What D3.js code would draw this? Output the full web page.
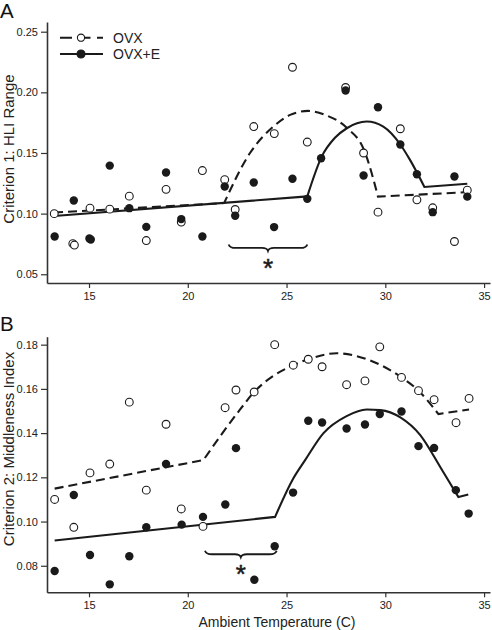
<!DOCTYPE html>
<html><head><meta charset="utf-8">
<script src="https://cdn.jsdelivr.net/npm/d3@7"></script>
<style>
html,body{margin:0;padding:0;background:#fff;}
svg{display:block;font-family:"Liberation Sans",Arial,Helvetica,sans-serif;}
</style></head>
<body>
<svg id="chart" width="492" height="630"></svg>
<script>
// ---------- data ----------
const xTicks = [15, 20, 25, 30, 35];
const yTicksA = [0.05, 0.10, 0.15, 0.20, 0.25];
const yTicksB = [0.08, 0.10, 0.12, 0.14, 0.16, 0.18];
const seriesNames = ["OVX", "OVX+E"];

// Panel A (Criterion 1: HLI Range)
const aOvxX = [13.24,14.18,14.26,15.05,16.05,17.04,17.90,18.90,19.67,20.74,21.87,22.40,23.34,24.38,25.30,26.05,27.99,28.90,29.63,30.76,31.60,32.40,33.50,34.15];
const aOvxY = [0.100,0.0752,0.0741,0.1045,0.1037,0.1144,0.0778,0.120,0.093,0.1355,0.128,0.1034,0.1718,0.166,0.2207,0.159,0.204,0.150,0.1012,0.170,0.1114,0.1048,0.0770,0.1193];
const aEX = [13.26,14.23,15.02,15.09,16.05,17.04,17.90,18.90,19.67,20.74,21.87,22.40,23.34,24.37,25.30,26.05,26.75,27.99,28.90,29.63,30.76,31.60,32.40,33.50,34.15];
const aEY = [0.0811,0.1108,0.0795,0.0786,0.1396,0.1045,0.0891,0.1339,0.0955,0.0811,0.1224,0.0982,0.1257,0.0889,0.1287,0.1122,0.1457,0.2015,0.1314,0.1877,0.157,0.1325,0.1012,0.1306,0.114];
const aOvxFitX = [13.23,21.84,23.15,24.32,25.18,26.09,26.95,28.06,28.92,29.63,34.14];
const aOvxFitY = [0.1009,0.1087,0.150,0.1716,0.1814,0.1847,0.1814,0.1707,0.1526,0.114,0.1177];
const aOvxKnots = [21.84, 29.63];
const aEFitX = [13.23,26.05,26.78,27.45,28.05,29.06,29.90,30.76,31.25,31.98,34.15];
const aEFitY = [0.0981,0.1142,0.147,0.1625,0.1704,0.1759,0.1717,0.157,0.1443,0.122,0.1246];
const aEKnots = [26.05, 31.98];
const aBrace = [22.07, 26.05, 0.0717];

// Panel B (Criterion 2: Middleness Index)
const bOvxX = [13.26,14.23,15.05,16.05,17.04,17.90,18.90,19.67,20.77,21.89,22.44,23.36,24.40,25.34,26.10,26.80,28.04,28.97,29.72,30.82,31.68,32.47,33.58,34.24];
const bOvxY = [0.110,0.0974,0.122,0.126,0.154,0.1142,0.144,0.1057,0.0978,0.1515,0.1595,0.1586,0.180,0.1707,0.1734,0.170,0.1619,0.1636,0.179,0.1652,0.1592,0.1551,0.1447,0.1557];
const bEX = [13.26,14.23,15.05,16.05,17.04,17.90,18.90,19.69,20.77,21.90,22.44,23.37,24.40,25.33,26.10,26.80,28.04,28.97,29.72,30.82,31.68,32.47,33.57,34.22];
const bEY = [0.0776,0.112,0.0849,0.0716,0.0843,0.0974,0.126,0.0986,0.1021,0.1077,0.1332,0.0737,0.0888,0.1131,0.1456,0.1448,0.1421,0.1439,0.1486,0.1498,0.1341,0.1333,0.1142,0.1036];
const bOvxFitX = [13.26,20.79,22.65,23.36,24.32,25.34,26.10,27.54,29.06,30.82,31.68,32.69,34.24];
const bOvxFitY = [0.1149,0.1278,0.1507,0.1586,0.1658,0.1707,0.1734,0.1761,0.1734,0.1652,0.1592,0.1486,0.1507];
const bOvxKnots = [20.79, 32.69];
const bEFitX = [13.26,24.42,25.34,25.94,26.86,28.04,29.06,29.75,30.76,31.77,32.78,33.70,34.20];
const bEFitY = [0.0914,0.1021,0.1195,0.1278,0.1399,0.1477,0.1507,0.1504,0.1471,0.1391,0.1247,0.1111,0.1122];
const bEKnots = [24.42, 33.70];
const bBrace = [20.87, 24.5, 0.0852];

// ---------- drawing ----------
const svg = d3.select("#chart");
const ink = "#1a1a1a";
const axisCol = "#333";
const zip = (xs, ys) => xs.map((x, i) => [x, ys[i]]);

const x = d3.scaleLinear().domain([12.873, 35.3]).range([47, 490]);

const panels = [
  { letter: "A", letterY: 18, ylab: "Criterion 1: HLI Range", ylabY: 149,
    y: d3.scaleLinear().domain([0.0428, 0.258]).range([283, 22]),
    yTicks: yTicksA, ovx: zip(aOvxX, aOvxY), e: zip(aEX, aEY),
    ovxFit: zip(aOvxFitX, aOvxFitY), ovxKnots: aOvxKnots,
    eFit: zip(aEFitX, aEFitY), eKnots: aEKnots, brace: aBrace, legend: true },
  { letter: "B", letterY: 330.5, ylab: "Criterion 2: Middleness Index", ylabY: 449,
    y: d3.scaleLinear().domain([0.068, 0.1836]).range([592.3, 336.7]),
    yTicks: yTicksB, ovx: zip(bOvxX, bOvxY), e: zip(bEX, bEY),
    ovxFit: zip(bOvxFitX, bOvxFitY), ovxKnots: bOvxKnots,
    eFit: zip(bEFitX, bEFitY), eKnots: bEKnots, brace: bBrace, legend: false }
];

// piecewise smooth path: split at knots (sharp corners), smooth within pieces
function piecewisePath(pts, knots, line) {
  const segs = [];
  let cur = [];
  pts.forEach(p => {
    cur.push(p);
    if (knots.some(k => Math.abs(k - p[0]) < 1e-9) && cur.length > 1) {
      segs.push(cur);
      cur = [p];
    }
  });
  if (cur.length > 1) segs.push(cur);
  return segs.map((s, i) => {
    const d = line(s);
    return i === 0 ? d : d.replace(/^M/, "L");
  }).join("");
}

panels.forEach(p => {
  const g = svg.append("g");
  const y = p.y;
  const y0 = y.range()[0];

  // axes
  const xa = g.append("g").attr("transform", `translate(0,${y0})`)
    .call(d3.axisBottom(x).tickValues(xTicks).tickSize(5).tickSizeOuter(0).tickPadding(4));
  const ya = g.append("g").attr("transform", `translate(47,0)`)
    .call(d3.axisLeft(y).tickValues(p.yTicks).tickFormat(d3.format(".2f")).tickSize(6).tickSizeOuter(0).tickPadding(3));
  [xa, ya].forEach(a => {
    a.select(".domain").attr("stroke", axisCol).attr("stroke-width", 1.6);
    a.selectAll(".tick line").attr("stroke", axisCol).attr("stroke-width", 1.2);
    a.selectAll(".tick text").attr("fill", "#222").attr("font-size", 11)
      .attr("font-family", '"Liberation Sans",Arial,sans-serif');
  });

  // panel letter
  g.append("text").attr("x", 0).attr("y", p.letterY).attr("font-size", 20.5).attr("fill", "#111").text(p.letter);
  // y label
  g.append("text").attr("transform", `translate(13.5,${p.ylabY}) rotate(-90)`)
    .attr("text-anchor", "middle").attr("font-size", 15).attr("fill", "#222").text(p.ylab);

  // fitted lines
  const line = d3.line().x(d => x(d[0])).y(d => y(d[1])).curve(d3.curveMonotoneX);
  g.append("path").attr("d", piecewisePath(p.ovxFit, p.ovxKnots, line)).attr("fill", "none")
    .attr("stroke", ink).attr("stroke-width", 2.1).attr("stroke-dasharray", "9,5")
    .attr("stroke-linejoin", "miter");
  g.append("path").attr("d", piecewisePath(p.eFit, p.eKnots, line)).attr("fill", "none")
    .attr("stroke", ink).attr("stroke-width", 2.1).attr("stroke-linejoin", "miter");

  // points
  g.append("g").selectAll("circle").data(p.ovx).join("circle")
    .attr("cx", d => x(d[0])).attr("cy", d => y(d[1])).attr("r", 3.9)
    .attr("fill", "#fff").attr("stroke", ink).attr("stroke-width", 1.1);
  g.append("g").selectAll("circle").data(p.e).join("circle")
    .attr("cx", d => x(d[0])).attr("cy", d => y(d[1])).attr("r", 4.2)
    .attr("fill", ink);

  // brace with asterisk
  const bx0 = x(p.brace[0]), bx1 = x(p.brace[1]), by = y(p.brace[2]);
  const bm = (bx0 + bx1) / 2;
  const bp = d3.path();
  bp.moveTo(bx0, by - 3.5);
  bp.quadraticCurveTo(bx0 + 1, by, bx0 + 7, by);
  bp.lineTo(bm - 6, by);
  bp.quadraticCurveTo(bm - 1, by, bm, by + 3);
  bp.quadraticCurveTo(bm + 1, by, bm + 6, by);
  bp.lineTo(bx1 - 7, by);
  bp.quadraticCurveTo(bx1 - 1, by, bx1, by - 3.5);
  g.append("path").attr("d", bp.toString()).attr("fill", "none").attr("stroke", ink).attr("stroke-width", 1.8);
  g.append("text").attr("x", bm).attr("y", by + 29).attr("text-anchor", "middle")
    .attr("font-size", 26).attr("fill", ink).attr("stroke", ink).attr("stroke-width", 0.5).text("*");

  // legend
  if (p.legend) {
    const rows = [{ name: seriesNames[0], dash: true, yy: 37.7 }, { name: seriesNames[1], dash: false, yy: 54 }];
    rows.forEach(r => {
      g.append("line").attr("x1", 60).attr("x2", 103).attr("y1", r.yy).attr("y2", r.yy)
        .attr("stroke", ink).attr("stroke-width", 2.1)
        .attr("stroke-dasharray", r.dash ? "12,6.5" : null);
      g.append("circle").attr("cx", 81).attr("cy", r.yy).attr("r", r.dash ? 3.6 : 4)
        .attr("fill", r.dash ? "#fff" : ink).attr("stroke", ink).attr("stroke-width", 1.1);
      g.append("text").attr("x", 113).attr("y", r.yy + 5).attr("font-size", 14).attr("fill", "#222").text(r.name);
    });
  }
});

// x axis title
svg.append("text").attr("x", 277).attr("y", 626.5).attr("text-anchor", "middle")
  .attr("font-size", 14).attr("fill", "#222").text("Ambient Temperature (C)");
</script>
</body></html>
